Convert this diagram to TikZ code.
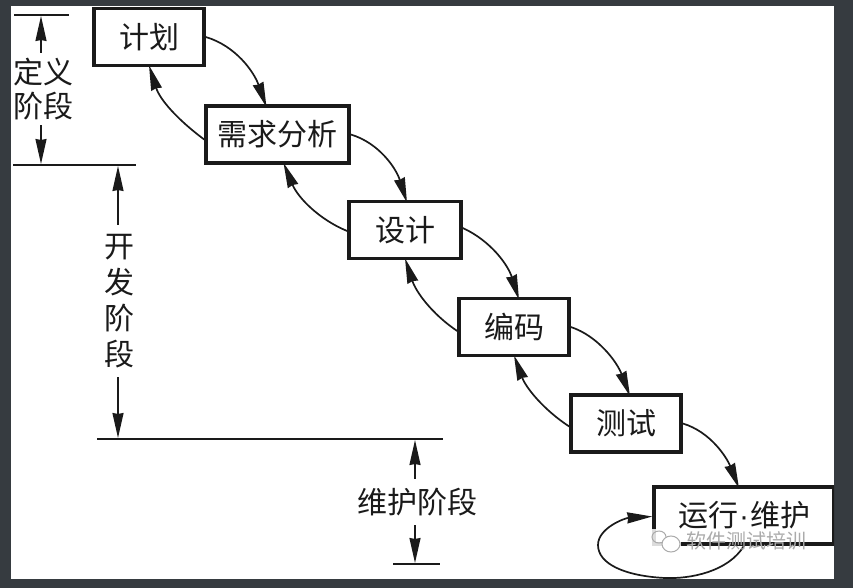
\documentclass[tikz,border=0pt]{standalone}
\usepackage{fontspec}
\setmainfont{Noto Sans CJK SC}
\newfontfamily\dotfont{Liberation Sans}
\usetikzlibrary{arrows.meta}
\definecolor{frame}{HTML}{363B40}
\definecolor{ink}{HTML}{1A1A1A}
\definecolor{wm}{HTML}{ABABAB}
\tikzset{
  x=1pt,y=-1pt,
  stage/.style={draw=ink,line width=3.6pt,fill=white,text=ink,inner sep=0pt,minimum height=57pt,font=\fontsize{30}{34}\selectfont},
  flow/.style={draw=ink,line width=1.7pt,-{Stealth[length=25pt,width=11pt,inset=1pt]}},
  dim/.style={draw=ink,line width=1.6pt,-{Stealth[length=25pt,width=11pt,inset=1pt]}},
  rule/.style={draw=ink,line width=1.6pt},
  span/.style={text=ink,inner sep=0pt,align=center,font=\fontsize{30}{36}\selectfont}
}
\begin{document}
\begin{tikzpicture}
\useasboundingbox (0,0) rectangle (853,588);
\fill[frame] (0,0) rectangle (853,588);
\fill[white] (11,6) rectangle (834,579);
\begin{scope}
\clip (11,6) rectangle (834,579);
% rules
\coordinate (r1a) at (14,15);  \coordinate (r1b) at (69,15);
\coordinate (r2a) at (13,165); \coordinate (r2b) at (136,165);
\coordinate (r3a) at (97,439); \coordinate (r3b) at (443,439);
\coordinate (r4a) at (393,564);\coordinate (r4b) at (440,564);
\draw[rule] (r1a) -- (r1b);
\draw[rule] (r2a) -- (r2b);
\draw[rule] (r3a) -- (r3b);
\draw[rule] (r4a) -- (r4b);
% stages
\node[stage,minimum width=110pt] (plan) at (149,37) {计划};
\node[stage,minimum width=143pt] (req) at (277.5,134.5) {需求分析};
\node[stage,minimum width=112pt] (des) at (405,230) {设计};
\node[stage,minimum width=110pt] (code) at (514,327) {编码};
\node[stage,minimum width=110pt] (test) at (626,423.5) {测试};
\node[stage,minimum width=180pt] (ops) at (744,515.5) {运行{\dotfont\kern1pt·\kern1pt}维护};
% dimension labels
\node[span,minimum height=72pt,minimum width=60pt] (ldef) at (43,89) {定义\\[-2pt]阶段};
\node[span,minimum height=152pt,minimum width=32pt] (ldev) at (119,301) {开\\发\\阶\\段};
\node[span,minimum height=46pt,minimum width=124pt] (lmnt) at (417,502) {维护阶段};
% dimension arrows
\coordinate (t1) at (41,16);   \coordinate (t2) at (41,164);
\coordinate (t3) at (118,166); \coordinate (t4) at (118,438);
\coordinate (t5) at (415,440); \coordinate (t6) at (415,563);
\draw[dim] (ldef.north -| t1) -- (t1);
\draw[dim] (ldef.south -| t2) -- (t2);
\draw[dim] (ldev.north -| t3) -- (t3);
\draw[dim] (ldev.south -| t4) -- (t4);
\draw[dim] (lmnt.north -| t5) -- (t5);
\draw[dim] (lmnt.south -| t6) -- (t6);
% forward flow
\draw[flow] (plan.east) .. controls (236,46) and (254,72) .. ([xshift=-11pt,yshift=-3pt]req.north);
\draw[flow] (req.east) .. controls (379,143) and (396,168) .. ([xshift=2pt,yshift=-3pt]des.north);
\draw[flow] ([yshift=2pt]des.east) .. controls (491,241) and (508,265) .. ([xshift=5pt,yshift=-3pt]code.north);
\draw[flow] (code.east) .. controls (598,336) and (617,362) .. ([xshift=4pt,yshift=-3pt]test.north);
\draw[flow] (test.east) .. controls (711,432) and (727,458) .. ([xshift=-5pt,yshift=-3pt]ops.north);
% backward flow
\draw[flow] ([yshift=-5pt]req.west) .. controls (178,120) and (160,100) .. ([yshift=2pt]plan.south);
\draw[flow] ([yshift=-1pt]des.west) .. controls (320,220) and (298,198) .. ([xshift=6pt,yshift=2pt]req.south);
\draw[flow] ([yshift=-4pt]code.west) .. controls (432,314) and (416,292) .. ([yshift=2pt]des.south);
\draw[flow] ([yshift=-3pt]test.west) .. controls (544,410) and (526,388) .. ([yshift=2pt]code.south);
% loop
\draw[flow] (ops.south) .. controls (728,572) and (690,579) .. (665,578)
  .. controls (625,576) and (598,564) .. (598,545)
  .. controls (598,528) and (625,518) .. ([yshift=-1pt]ops.west);
\end{scope}
% watermark
\fill[white,opacity=0.85] (650,529) rectangle (681,553);
\node[text=wm,inner sep=0pt,font=\fontsize{20}{22}\selectfont] (wmark) at (746,541) {软件测试培训};
\draw[wm,line width=1pt] (659,537) ellipse [x radius=7pt,y radius=6pt];
\draw[wm,line width=1pt,fill=white] (671,544) ellipse [x radius=9pt,y radius=8pt];
\end{tikzpicture}
\end{document}
